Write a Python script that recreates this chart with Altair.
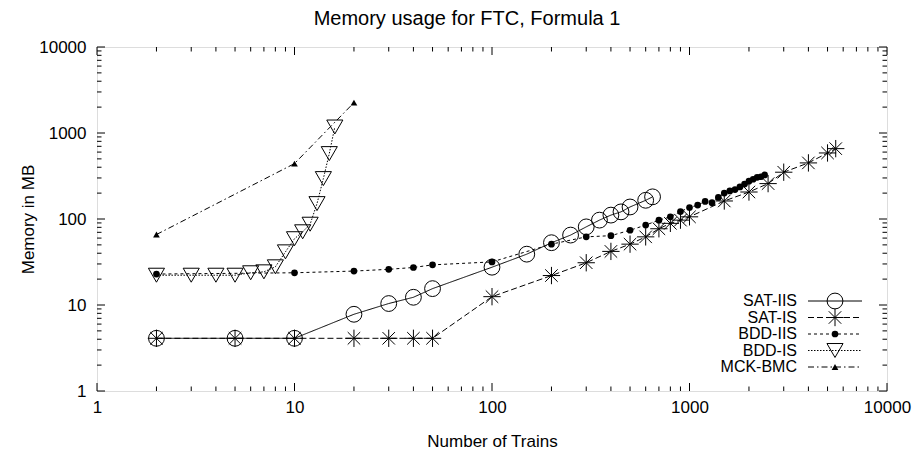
import altair as alt
import pandas as pd

# ---------------- data ----------------
sat_iis_x = [2, 5, 10, 20, 30, 40, 50, 100, 150, 200, 250, 300, 350, 400, 450, 500, 600, 650]
sat_iis_y = [4.1, 4.1, 4.1, 7.8, 10.4, 12.3, 15.5, 27.5, 39, 53, 65, 81, 97, 111, 121, 138, 165, 181]

sat_is_x = [2, 5, 10, 20, 30, 40, 50, 100, 200, 300, 400, 500, 600, 700, 800, 900, 1000,
            1500, 2000, 2500, 3000, 4000, 5000, 5500]
sat_is_y = [4.1, 4.1, 4.1, 4.1, 4.1, 4.1, 4.1, 12.5, 22, 31, 42, 51, 62, 77, 89, 97, 106,
            162, 206, 258, 350, 449, 586, 658]

bdd_iis_x = [2, 10, 20, 30, 40, 50, 100, 200, 300, 400, 500, 600, 700, 800, 900, 1000,
             1100, 1200, 1300, 1400, 1500, 1600, 1700, 1800, 1900, 2000, 2100, 2200, 2300, 2400]
bdd_iis_y = [22.9, 23.7, 24.8, 26, 27.3, 29.3, 31.7, 51, 62, 64, 74, 85, 97, 106, 122, 136,
             145, 160, 155, 178, 200, 212, 220, 236, 255, 275, 290, 305, 310, 325]

bdd_is_x = [2, 3, 4, 5, 6, 7, 8, 9, 10, 11, 12, 13, 14, 15, 16]
bdd_is_y = [22.2, 22.2, 22.2, 22.2, 23.7, 24.3, 27.8, 41.5, 59, 71, 87, 151, 295, 576, 1174]

mck_x = [2, 10, 20]
mck_y = [66, 441, 2255]

series_names = ["SAT-IIS", "SAT-IS", "BDD-IIS", "BDD-IS", "MCK-BMC"]

major_ticks = [1, 10, 100, 1000, 10000]
minor_ticks = [k * 10 ** e for e in range(4) for k in range(2, 10)]

# ---------------- styling ----------------
FONT = "Liberation Sans"
W, H = 790, 344
ASTERISK = "M0,-1L0,1M-1,0L1,0M-0.72,-0.72L0.72,0.72M-0.72,0.72L0.72,-0.72"

styles = {
    "SAT-IIS": dict(dash=[1, 0], shape="circle", size=250, filled=False),
    "SAT-IS": dict(dash=[6, 3], shape=ASTERISK, size=300, filled=False),
    "BDD-IIS": dict(dash=[3, 3], shape="circle", size=45, filled=True),
    "BDD-IS": dict(dash=[1.5, 1.5], shape="triangle-down", size=260, filled=False),
    "MCK-BMC": dict(dash=[6, 3, 1.5, 3], shape="triangle-up", size=45, filled=True),
}
data_sets = {
    "SAT-IIS": (sat_iis_x, sat_iis_y),
    "SAT-IS": (sat_is_x, sat_is_y),
    "BDD-IIS": (bdd_iis_x, bdd_iis_y),
    "BDD-IS": (bdd_is_x, bdd_is_y),
    "MCK-BMC": (mck_x, mck_y),
}

x_scale = alt.Scale(type="log", domain=[1, 10000], nice=False)
y_scale = alt.Scale(type="log", domain=[1, 10000], nice=False)

x_axis = alt.Axis(values=major_ticks, format="d", ticks=False, domain=False, grid=False,
                  labelFont=FONT, labelFontSize=17, labelColor="black", labelPadding=8,
                  labelFlush=False, title="Number of Trains", titleFont=FONT,
                  titleFontSize=17, titleFontWeight="normal", titleColor="black",
                  titlePadding=18)
y_axis = alt.Axis(values=major_ticks, format="d", ticks=False, domain=False, grid=False,
                  labelFont=FONT, labelFontSize=17, labelColor="black", labelPadding=11,
                  labelFlush=False, title="Memory in MB", titleFont=FONT,
                  titleFontSize=17, titleFontWeight="normal", titleColor="black",
                  titlePadding=1)

X = alt.X("x:Q", scale=x_scale, axis=x_axis)
Y = alt.Y("y:Q", scale=y_scale, axis=y_axis)

layers = []

# tick marks (inward, on all four sides)
for vals, length in [(major_ticks, 8), (minor_ticks, 4.5)]:
    tdf = pd.DataFrame({"x": vals, "y": vals})
    layers.append(alt.Chart(tdf).mark_rule(color="black", strokeWidth=1).encode(
        x=X, y=alt.value(H), y2=alt.value(H - length)))
    layers.append(alt.Chart(tdf).mark_rule(color="black", strokeWidth=1).encode(
        x=X, y=alt.value(0), y2=alt.value(length)))
    layers.append(alt.Chart(tdf).mark_rule(color="black", strokeWidth=1).encode(
        y=Y, x=alt.value(0), x2=alt.value(length)))
    layers.append(alt.Chart(tdf).mark_rule(color="black", strokeWidth=1).encode(
        y=Y, x=alt.value(W), x2=alt.value(W - length)))

# data series
for name in series_names:
    xs, ys = data_sets[name]
    st = styles[name]
    df = pd.DataFrame({"x": xs, "y": ys, "series": name})
    layers.append(alt.Chart(df).mark_line(color="black", strokeWidth=1,
                                          strokeDash=st["dash"]).encode(x=X, y=Y, order="x:Q"))
    layers.append(alt.Chart(df).mark_point(shape=st["shape"], size=st["size"],
                                           filled=st["filled"], color="black",
                                           strokeWidth=1, opacity=1).encode(x=X, y=Y))

# legend (gnuplot-style key, bottom right inside the plot)
legend_rows_y = [254, 270.5, 287, 303.5, 320]
for name, ry in zip(series_names, legend_rows_y):
    st = styles[name]
    ldf = pd.DataFrame({"series": [name]})
    layers.append(alt.Chart(ldf).mark_text(align="right", baseline="middle", font=FONT,
                                           fontSize=16, color="black").encode(
        x=alt.value(700), y=alt.value(ry), text="series:N"))
    layers.append(alt.Chart(ldf).mark_rule(color="black", strokeWidth=1,
                                           strokeDash=st["dash"]).encode(
        x=alt.value(711), x2=alt.value(765), y=alt.value(ry)))
    layers.append(alt.Chart(ldf).mark_point(shape=st["shape"], size=st["size"],
                                            filled=st["filled"], color="black",
                                            strokeWidth=1, opacity=1).encode(
        x=alt.value(738), y=alt.value(ry)))

chart = alt.layer(*layers).properties(
    width=W, height=H,
    title=alt.TitleParams("Memory usage for FTC, Formula 1", font=FONT, fontSize=20,
                          fontWeight="normal", color="black", anchor="middle", offset=9,
                          dx=-25),
    autosize=alt.AutoSizeParams(type="none"),
    padding={"left": 89, "top": 39, "right": 26, "bottom": 58},
).configure_view(stroke="black", strokeWidth=1.5).configure(background="white")

chart.save("out.html", embed_options={"renderer": "svg", "actions": False})
